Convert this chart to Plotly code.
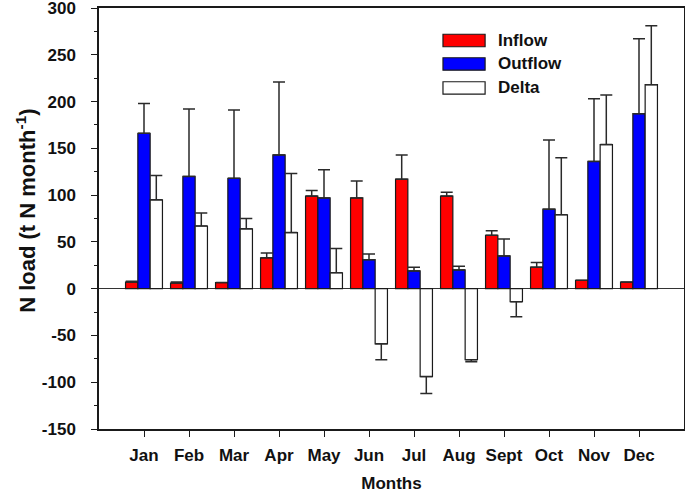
import plotly.graph_objects as go

months = ["Jan", "Feb", "Mar", "Apr", "May", "Jun", "Jul", "Aug", "Sept", "Oct", "Nov", "Dec"]
inflow = [7, 6, 6.5, 33, 99, 97, 117, 99, 57, 23, 9, 7]
inflow_err = [1, 1, 0, 5, 6, 18, 26, 4, 5, 5, 0, 0]
outflow = [166, 120, 118, 143, 97, 31, 19, 20, 35, 85, 136, 187]
outflow_err = [32, 72, 73, 78, 30, 6, 4, 4, 18, 74, 67, 80]
delta = [95, 67, 64, 60, 17, -59, -94, -76, -14, 79, 154, 218]
delta_err = [26, 14, 11, 63, 26, 17, 18, 2, 16, 61, 53, 63]

y_tickvals = [-150, -100, -50, 0, 50, 100, 150, 200, 250, 300]
y_ticktext = ["-150", "-100", "-50", "0", "50", "100", "150", "200", "250", "300"]

series_names = ["Inflow", "Outflow", "Delta"]
series_colors = ["#ff0000", "#0000ff", "#ffffff"]
series_values = [inflow, outflow, delta]
series_errors = [inflow_err, outflow_err, delta_err]

FONT = "Liberation Sans, Arial, sans-serif"
LINE = "#1a1a1a"

fig = go.Figure()
for name, color, vals, errs in zip(series_names, series_colors, series_values, series_errors):
    plus = [e if v >= 0 else 0 for v, e in zip(vals, errs)]
    minus = [e if v < 0 else 0 for v, e in zip(vals, errs)]
    fig.add_trace(go.Bar(
        x=months, y=vals, name=name,
        marker=dict(color=color, line=dict(color=LINE, width=1.2)),
        error_y=dict(type="data", symmetric=False, array=plus, arrayminus=minus,
                     color="#2a2a2a", thickness=1.5, width=6),
        showlegend=False,
    ))

# legend drawn as boxes + labels
leg_rows = [0.9228, 0.867, 0.810]
for name, color, yc in zip(series_names, series_colors, leg_rows):
    fig.add_shape(type="rect", xref="paper", yref="paper",
                  x0=0.588, x1=0.660, y0=yc - 0.0148, y1=yc + 0.0148,
                  fillcolor=color, line=dict(color=LINE, width=1.2))
    fig.add_annotation(xref="paper", yref="paper", x=0.678, y=yc, text=name,
                       showarrow=False, xanchor="left", yanchor="middle",
                       font=dict(family=FONT, size=17, color="#111", weight="bold"))

# y-axis title as rotated annotation
fig.add_annotation(xref="paper", yref="paper", x=-0.125, y=0.518,
                   text="N load (t N month<sup>-1</sup>)", textangle=-90,
                   showarrow=False, xanchor="center", yanchor="middle",
                   font=dict(family=FONT, size=22, color="#111", weight="bold"))

fig.update_layout(
    width=685, height=493,
    margin=dict(l=99, r=1, t=8, b=64),
    paper_bgcolor="white", plot_bgcolor="white",
    barmode="group", bargap=0.18, bargroupgap=0,
    font=dict(family=FONT, color="#111", weight="bold"),
)
fig.update_xaxes(
    type="category", range=[-1, 12], automargin=False,
    showline=True, mirror=True, linecolor=LINE, linewidth=1.5,
    ticks="outside", ticklen=6, tickwidth=1.3, tickcolor=LINE,
    tickfont=dict(family=FONT, size=17, weight="bold"),
    ticklabelstandoff=4,
    showgrid=False, zeroline=False,
    title=dict(text="Months", font=dict(family=FONT, size=17, weight="bold"), standoff=16),
)
fig.update_yaxes(
    range=[-150, 300], automargin=False,
    tickmode="array", tickvals=y_tickvals, ticktext=y_ticktext,
    ticklabeloverflow="allow",
    showline=True, mirror=True, linecolor=LINE, linewidth=1.5,
    ticks="outside", ticklen=6, tickwidth=1.3, tickcolor=LINE,
    minor=dict(ticks="outside", ticklen=3, tickmode="linear", tick0=-150, dtick=25,
               tickcolor=LINE, tickwidth=1.2),
    tickfont=dict(family=FONT, size=17, weight="bold"),
    ticklabelstandoff=12,
    showgrid=False, zeroline=True, zerolinecolor="#333", zerolinewidth=1,
)

fig.write_html("out.html", config={"displayModeBar": False},
               post_script="document.body.style.margin='0';")
